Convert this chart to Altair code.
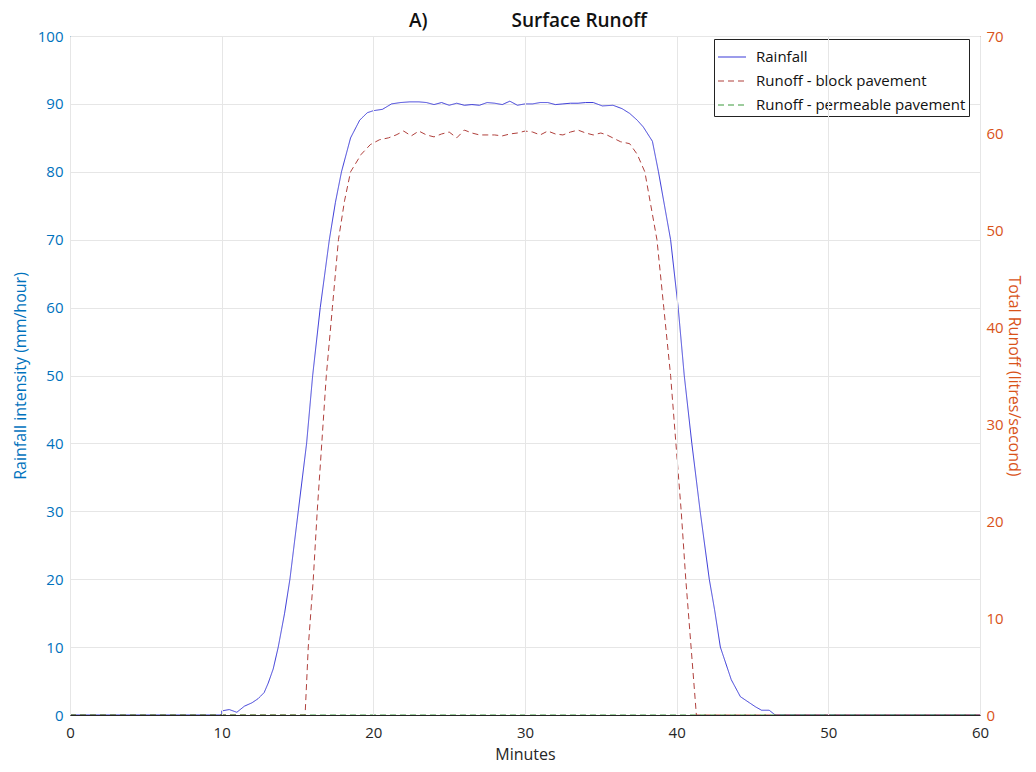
import altair as alt
import pandas as pd

# ---- data ----
rain_t = [0, 10, 10, 10.5, 11.0, 11.5, 12.0, 12.4, 12.8, 13.07, 13.4, 13.73, 14.15, 14.5, 15.05,
          15.6, 16.0, 16.5, 17.1, 17.5, 17.9, 18.5, 19.1, 19.6, 20.0, 20.6, 21.2, 21.8, 22.4,
          23.0, 23.5, 24.0, 24.5, 25.0, 25.5, 26.0, 26.5, 27.0, 27.5, 28.0, 28.5, 29.0, 29.5,
          30.0, 30.5, 31.0, 31.5, 32.0, 32.5, 33.0, 33.5, 34.0, 34.5, 35.1, 35.8, 36.4, 36.9,
          37.4, 37.8, 38.4, 38.8, 39.2, 39.6, 40.1, 40.5, 41.0, 41.55, 42.15, 42.5, 42.88, 43.6,
          44.2, 44.8, 45.2, 45.6, 46.1, 46.5, 60]
rain_v = [0, 0, 0.6, 0.8, 0.4, 1.3, 1.8, 2.4, 3.3, 4.7, 6.8, 10, 15, 20, 30,
          40, 50, 60, 70, 75.5, 80, 85, 87.6, 88.7, 89.0, 89.2, 90.0, 90.2, 90.3,
          90.3, 90.2, 89.9, 90.2, 89.8, 90.1, 89.8, 89.9, 89.8, 90.2, 90.1, 89.9, 90.4, 89.8,
          90.0, 90.0, 90.2, 90.2, 89.9, 90.0, 90.1, 90.1, 90.2, 90.2, 89.7, 89.8, 89.3, 88.6,
          87.6, 86.6, 84.5, 80, 75, 70, 60, 50, 40, 30, 20, 15.5, 10, 5.2,
          2.7, 1.8, 1.2, 0.7, 0.7, 0.0, 0]

block_t = [0, 15.5, 15.71, 16.04, 16.3, 16.6, 16.9, 17.3, 17.7, 18.1, 18.5, 19.2, 19.8, 20.4,
           21.0, 21.5, 22.0, 22.5, 23.0, 23.5, 24.0, 24.5, 25.0, 25.5, 26.0, 26.5, 27.0, 27.5,
           28.0, 28.5, 29.0, 29.5, 30.0, 30.5, 31.0, 31.5, 32.0, 32.5, 33.0, 33.5, 34.0, 34.5,
           35.0, 35.4, 36.3, 36.9, 37.4, 37.9, 38.7, 39.15, 39.6, 39.95, 40.3, 40.6, 40.95, 41.3, 60]
block_v = [0, 0, 7, 14, 21, 28, 35, 42, 49, 53, 56, 57.8, 58.8, 59.3,
           59.5, 59.8, 60.2, 59.7, 60.2, 59.8, 59.6, 59.9, 60.1, 59.5, 60.3, 60.0, 59.8, 59.8,
           59.8, 59.7, 59.9, 60.0, 60.2, 60.1, 59.8, 60.2, 59.9, 59.8, 60.1, 60.3, 60.0, 59.8,
           60.0, 59.8, 59.1, 58.9, 57.8, 56, 49, 42, 35, 28, 21, 14, 7, 0, 0]

perm_t = [0, 60]
perm_v = [0, 0]

series_names = ["Rainfall", "Runoff - block pavement", "Runoff - permeable pavement"]
series_colors = ["#3a3ad8", "#b0403c", "#3c9a3c"]
series_dash = [[1, 0], [6, 4], [6, 4]]

x_ticks = [0, 10, 20, 30, 40, 50, 60]
left_ticks = list(range(0, 101, 10))
right_ticks = list(range(0, 71, 10))

# ---- tables ----
rain_df = pd.DataFrame({"t": rain_t, "v": rain_v, "series": series_names[0],
                        "i": list(range(len(rain_t)))})
runoff_df = pd.concat([
    pd.DataFrame({"t": block_t, "v": block_v, "series": series_names[1],
                  "i": list(range(len(block_t)))}),
    pd.DataFrame({"t": perm_t, "v": perm_v, "series": series_names[2],
                  "i": list(range(len(perm_t)))}),
])

FONT = "Open Sans"
BLUE_AX = "#0072BD"
ORANGE_AX = "#D95319"
DARK = "#262626"

color_scale = alt.Scale(domain=series_names, range=series_colors)
dash_scale = alt.Scale(domain=series_names, range=series_dash)
leg = alt.Legend(title=None)

x_enc = alt.X("t:Q", scale=alt.Scale(domain=[0, 60], nice=False),
              axis=alt.Axis(values=x_ticks, title="Minutes", format="d",
                            labelColor=DARK, titleColor=DARK, domainColor=DARK,
                            ticks=False, labelPadding=10, titlePadding=6, labelFlush=False,
                            gridColor="#e6e6e6", zindex=1))

rain = alt.Chart(rain_df).mark_line(strokeWidth=1).encode(
    x=x_enc,
    y=alt.Y("v:Q", scale=alt.Scale(domain=[0, 100], nice=False),
            axis=alt.Axis(orient="left", values=left_ticks, title="Rainfall intensity (mm/hour)",
                          labelColor=BLUE_AX, titleColor=BLUE_AX, domainColor=BLUE_AX,
                          ticks=False, labelPadding=7, titlePadding=9,
                          gridColor="#e6e6e6")),
    color=alt.Color("series:N", scale=color_scale, legend=leg),
    strokeDash=alt.StrokeDash("series:N", scale=dash_scale, legend=leg),
    order="i:Q",
)

runoff = alt.Chart(runoff_df).mark_line(strokeWidth=1).encode(
    x=x_enc,
    y=alt.Y("v:Q", scale=alt.Scale(domain=[0, 70], nice=False),
            axis=alt.Axis(orient="right", values=right_ticks, title="Total Runoff (litres/second)",
                          labelColor=ORANGE_AX, titleColor=ORANGE_AX, domainColor=ORANGE_AX,
                          ticks=False, labelPadding=6, titlePadding=2, grid=False)),
    color=alt.Color("series:N", scale=color_scale, legend=leg),
    strokeDash=alt.StrokeDash("series:N", scale=dash_scale, legend=leg),
    order="i:Q",
)

title_text = "A)" + "\u00a0" * 17 + "Surface Runoff"

chart = alt.layer(rain, runoff).resolve_scale(y="independent").properties(
    width=910, height=679,
    padding={"left": 4, "top": 4, "right": 4, "bottom": 2},
    title=alt.TitleParams(title_text, anchor="middle", fontSize=19, fontWeight=600,
                          font=FONT, color="#111111", offset=-2, dx=3),
).configure(font=FONT).configure_axis(
    labelFont=FONT, titleFont=FONT, labelFontSize=15, titleFontSize=16,
    titleFontWeight="normal",
).configure_legend(
    orient="none", legendX=644, legendY=3,
    fillColor="white", strokeColor="#222222", padding=3,
    labelFont=FONT, labelFontSize=15, labelColor="#111111", labelLimit=0,
    symbolType="stroke", symbolSize=784, symbolStrokeWidth=1.2,
    rowPadding=1, labelOffset=9,
).configure_view(stroke="#d9d9d9")

chart.save("out.html", embed_options={"renderer": "svg", "actions": False})
